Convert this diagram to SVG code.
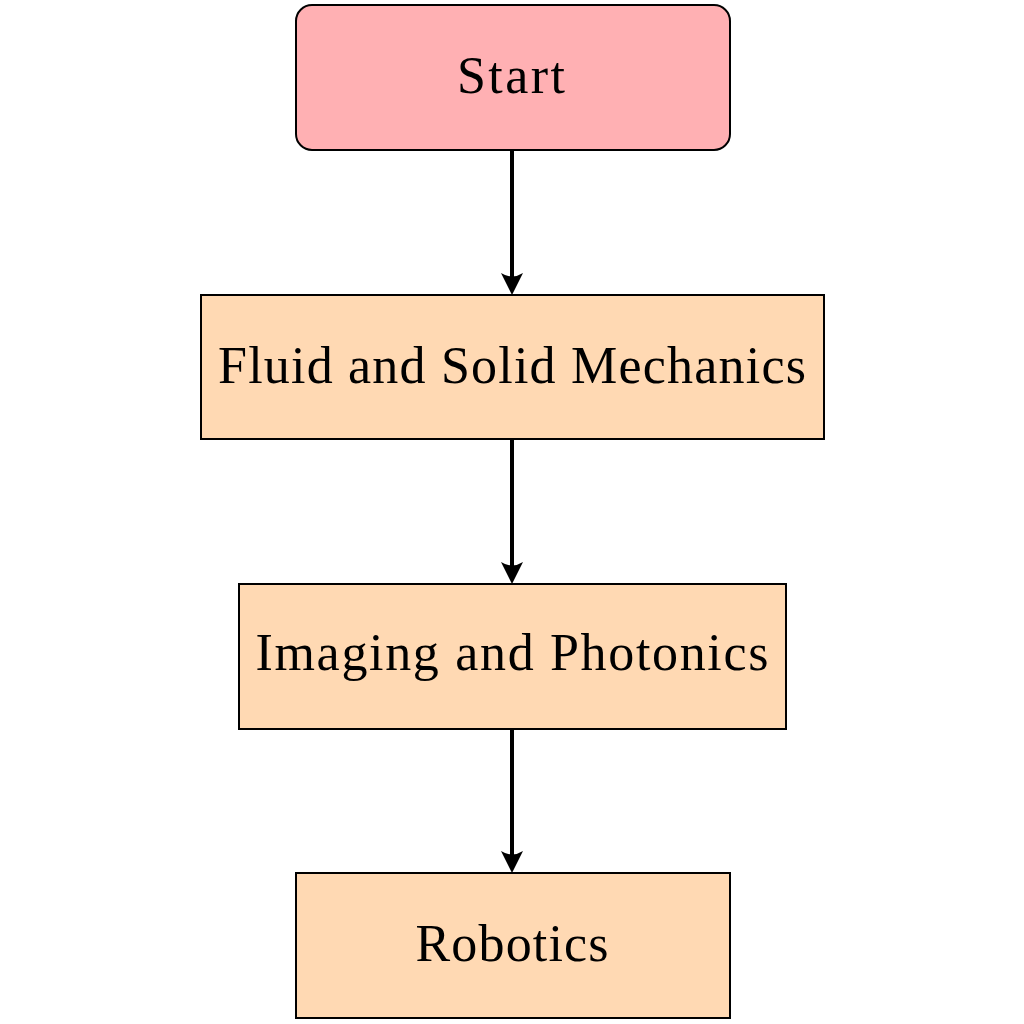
<svg xmlns="http://www.w3.org/2000/svg" width="1024" height="1024" viewBox="0 0 1024 1024">
<style>
.box{fill:#FFD9B3;stroke:#000;stroke-width:2}
.start{fill:#FFB0B3;stroke:#000;stroke-width:2}
.lbl{font-family:"Liberation Serif","DejaVu Serif",serif;font-size:52px;fill:#000;text-anchor:middle}
.edge{stroke:#000;stroke-width:4;fill:none}
.head{fill:#000;stroke:none}
</style>
<defs>
<path id="ah" class="head" d="M0,0 L-11,-22 Q0,-15 11,-22 Z"/>
</defs>
<rect width="1024" height="1024" fill="#fff"/>
<g id="edges">
<line class="edge" x1="512" y1="150" x2="512" y2="280"/>
<use href="#ah" x="512" y="295"/>
<line class="edge" x1="512" y1="439" x2="512" y2="569"/>
<use href="#ah" x="512" y="584"/>
<line class="edge" x1="512" y1="729" x2="512" y2="858"/>
<use href="#ah" x="512" y="873"/>
</g>
<g id="start">
<rect class="start" x="296" y="5" width="434" height="145" rx="16"/>
<text class="lbl" x="511" y="93" textLength="108" lengthAdjust="spacing">Start</text>
</g>
<g id="fluid">
<rect class="box" x="201" y="295" width="623" height="144"/>
<text class="lbl" x="512" y="383" textLength="588" lengthAdjust="spacing">Fluid and Solid Mechanics</text>
</g>
<g id="imaging">
<rect class="box" x="239" y="584" width="547" height="145"/>
<text class="lbl" x="512" y="670" textLength="513" lengthAdjust="spacing">Imaging and Photonics</text>
</g>
<g id="robotics">
<rect class="box" x="296" y="873" width="434" height="145"/>
<text class="lbl" x="512" y="961" textLength="193" lengthAdjust="spacing">Robotics</text>
</g>
</svg>
